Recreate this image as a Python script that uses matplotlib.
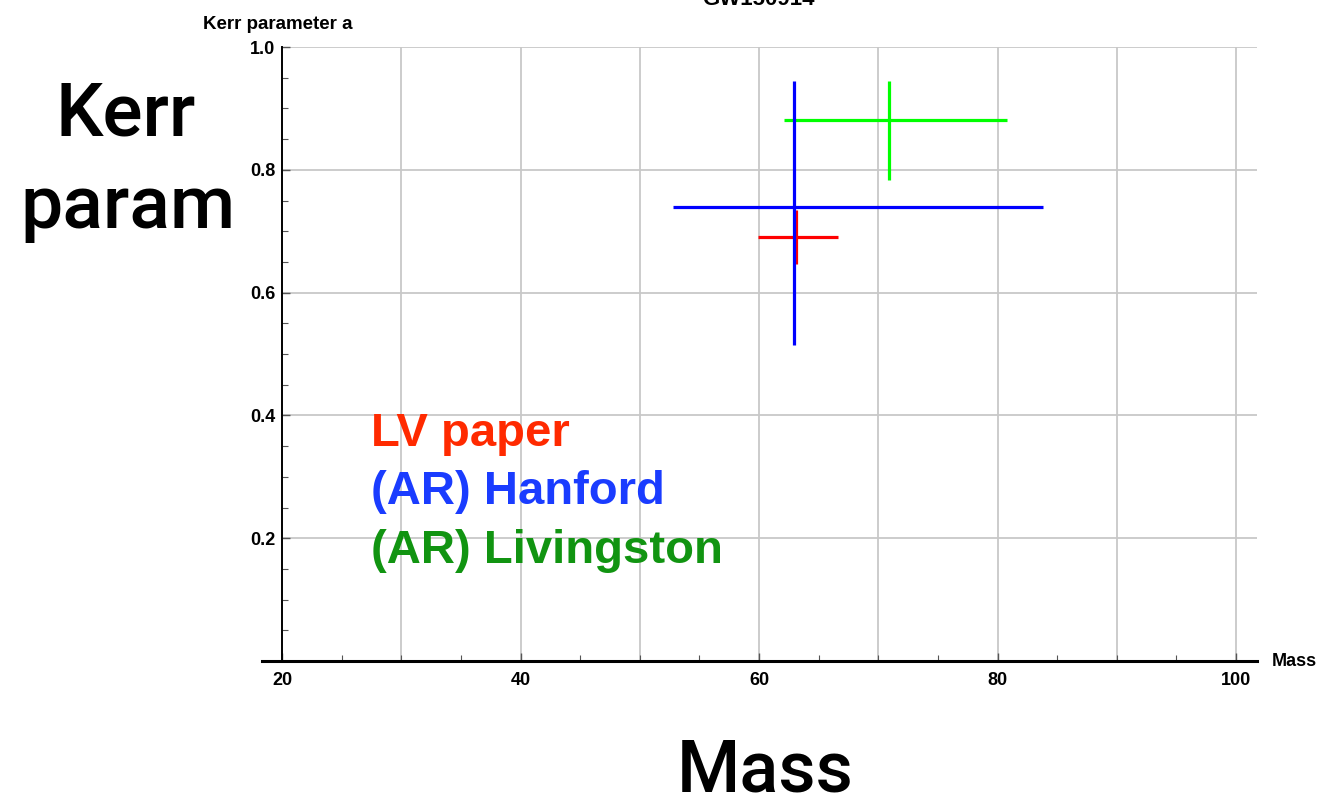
import numpy as np
import matplotlib
matplotlib.use('Agg')
import matplotlib.pyplot as plt
from matplotlib.ticker import MultipleLocator

# GW150914 remnant: mass and Kerr parameter estimates
sources = ['LV paper', '(AR) Hanford', '(AR) Livingston']
mass = [63.1, 62.9, 70.9]
mass_lo = [59.9, 52.8, 62.1]
mass_hi = [66.6, 83.8, 80.8]
kerr = [0.69, 0.74, 0.881]
kerr_lo = [0.647, 0.514, 0.783]
kerr_hi = [0.735, 0.944, 0.944]
line_colors = ['#ff0000', '#0000ff', '#00ff00']
text_colors = ['#ff2a00', '#1a3cff', '#119411']

x_ticks = [20, 40, 60, 80, 100]
y_ticks = [0.2, 0.4, 0.6, 0.8, 1.0]

W, H = 1321, 796
fig = plt.figure(figsize=(W / 100, H / 100), dpi=100)
x0, x1 = 18.3, 101.8
px_per_unit = (1236 - 282) / 80.0
left = 282 - (20 - x0) * px_per_unit
right = 282 + (x1 - 20) * px_per_unit
ax = fig.add_axes([left / W, (H - 661) / H, (right - left) / W, (661 - 47) / H])
ax.set_xlim(x0, x1)
ax.set_ylim(0, 1.0)

# grid drawn by hand so it starts at the y axis
for gx in range(30, 101, 10):
    ax.vlines(gx, 0, 1.0, color='#c8c8c8', lw=1.3, zorder=0)
for gy in y_ticks:
    ax.hlines(gy, 20, x1, color='#c8c8c8', lw=1.3, zorder=0)

order = [0, 2, 1]
for i in order:
    ax.errorbar(mass[i], kerr[i],
                xerr=[[mass[i] - mass_lo[i]], [mass_hi[i] - mass[i]]],
                yerr=[[kerr[i] - kerr_lo[i]], [kerr_hi[i] - kerr[i]]],
                fmt='none', ecolor=line_colors[i], elinewidth=2.3, capsize=0, zorder=3)

for s in ['top', 'right']:
    ax.spines[s].set_visible(False)
ax.spines['left'].set_position(('data', 20))
ax.spines['left'].set_linewidth(1.4)
ax.spines['bottom'].set_linewidth(2.2)

ax.set_xticks(x_ticks)
ax.set_yticks(y_ticks)
ax.xaxis.set_minor_locator(MultipleLocator(5))
ax.yaxis.set_minor_locator(MultipleLocator(0.05))
ax.tick_params(which='major', direction='in', length=6, width=1, color='#555555',
               labelsize=13)
ax.tick_params(which='minor', direction='in', length=4, width=0.8, color='#555555')
ax.tick_params(axis='x', pad=8)
ax.tick_params(axis='y', pad=5)
tick_font = ['Liberation Sans', 'DejaVu Sans']
for lab in ax.get_xticklabels() + ax.get_yticklabels():
    lab.set_fontweight('bold')
    lab.set_family(tick_font)

fig.text(203 / W, 1 - 29 / H, 'Kerr parameter a', fontsize=13.5, fontweight='bold',
         family=tick_font, ha='left', va='baseline')
fig.text(1272 / W, 1 - 661 / H, 'Mass', fontsize=13, fontweight='bold',
         family=tick_font, ha='left', va='center')
fig.text(758 / W, 1 - 5 / H, 'GW150914', fontsize=16, fontweight='bold',
         family=tick_font, ha='center', va='baseline')

# legend as coloured text
for k, lbl in enumerate(sources):
    fig.text(371 / W, 1 - (446 + k * 58.5) / H, lbl, color=text_colors[k],
             fontsize=34, fontweight='bold', family='Liberation Sans',
             ha='left', va='baseline')

big = dict(family=['Roboto', 'DejaVu Sans'], fontweight='medium', color='black')
fig.text(126 / W, 1 - 135 / H, 'Kerr', fontsize=54, ha='center', va='baseline', **big)
fig.text(128 / W, 1 - 228 / H, 'param', fontsize=54, ha='center', va='baseline', **big)
fig.text(765 / W, 1 - 791 / H, 'Mass', fontsize=52, ha='center', va='baseline', **big)

fig.savefig('out.png', dpi=100)
